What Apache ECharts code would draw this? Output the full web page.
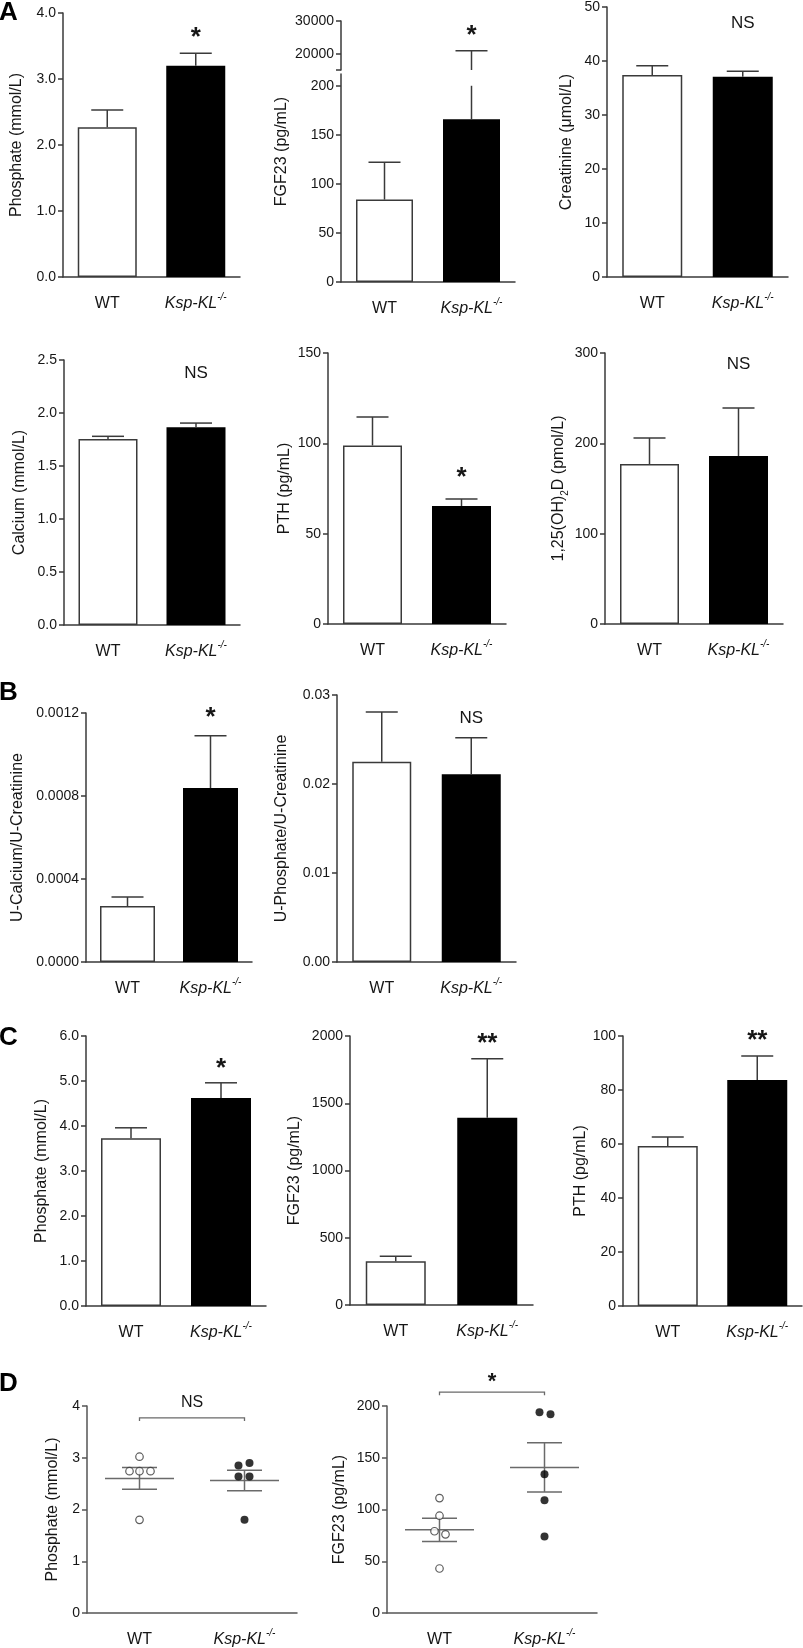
<!DOCTYPE html>
<html><head><meta charset="utf-8">
<script src="https://cdn.jsdelivr.net/npm/echarts@6/dist/echarts.min.js"></script>
<style>html,body{margin:0;padding:0;background:#fff}#c{width:803px;height:1648px}</style>
</head><body><div id="c"></div>
<script>
// ---------------- DATA ----------------
const groups = ['WT', 'Ksp-KL-/-'];
// Panel A (mean, SEM)
const aPhosMean = [2.27, 3.20],   aPhosSem = [0.26, 0.19];
const aFgfMean  = [84, 166],      aFgfSem  = [38, 20730];
const aCreaMean = [37.4, 37.1],   aCreaSem = [1.7, 1.0];
const aCaMean   = [1.755, 1.865], aCaSem   = [0.025, 0.04];
const aPthMean  = [98.8, 65.3],   aPthSem  = [15.8, 3.9];
const aVitDMean = [177, 186],     aVitDSem = [29, 53];
// Panel B
const bCaCrMean = [0.00027, 0.000838], bCaCrSem = [0.000043, 0.000252];
const bPCrMean  = [0.0225, 0.0211],    bPCrSem  = [0.0056, 0.0041];
// Panel C
const cPhosMean = [3.73, 4.62], cPhosSem = [0.23, 0.34];
const cFgfMean  = [326, 1393],  cFgfSem  = [37, 437];
const cPthMean  = [59.3, 83.7], cPthSem  = [3.3, 8.9];
// Panel D individual animals
const dPhosWT = [3.02, 2.74, 2.74, 2.74, 1.80];
const dPhosKL = [2.85, 2.90, 2.64, 2.64, 1.80];
const dPhosMean = [2.60, 2.56], dPhosSem = [0.21, 0.20];
const dFgfWT = [111, 94, 79, 76, 43];
const dFgfKL = [194, 192, 134, 109, 74];
const dFgfMean = [80.4, 140.7], dFgfSem = [11.2, 23.7];
// significance labels
const sigLabels = ['*', '*', 'NS', 'NS', '*', 'NS', '*', 'NS', '*', '**', '**', 'NS', '*'];

// ---------------- STYLE / LAYOUT ----------------
const FONT = '"Liberation Sans", Arial, Helvetica, sans-serif';
const AX = '#3a3a3a';
const TXT = '#161616';
const grids = [], xAxes = [], yAxes = [], series = [];

function catFormatter(v) {
  const m = v.match(/^(.*?)(-\/-)$/);
  return m ? '{i|' + m[1] + '}{s|' + m[2] + '}' : '{n|' + v + '}';
}
const catRich = {
  n: {fontSize: 16, fontFamily: FONT, color: TXT, lineHeight: 20, verticalAlign: 'bottom'},
  i: {fontStyle: 'italic', fontSize: 16, fontFamily: FONT, color: TXT, lineHeight: 20, verticalAlign: 'bottom'},
  s: {fontStyle: 'italic', fontSize: 10, fontFamily: FONT, color: TXT, lineHeight: 10, verticalAlign: 'top'}
};

function errItem(lo, hi, capW, color) {
  return function (params, api) {
    const i = api.value(0), m = api.value(1), s = api.value(2);
    const a = Math.max(m, lo), b = Math.min(m + s, hi);
    if (b <= a) return null;
    const p0 = api.coord([i, a]), p1 = api.coord([i, b]);
    const ch = [{type: 'line', shape: {x1: p0[0], y1: p0[1], x2: p1[0], y2: p1[1]}, style: {stroke: color, lineWidth: 1.5}}];
    if (m + s <= hi) ch.push({type: 'line', shape: {x1: p1[0] - capW / 2, y1: p1[1], x2: p1[0] + capW / 2, y2: p1[1]}, style: {stroke: color, lineWidth: 1.5}});
    return {type: 'group', children: ch};
  };
}

// label placed at fractional category position f (0 = WT, 1 = KL)
function textItem(label, size, weight, f) {
  return function (params, api) {
    const v = api.value(1);
    const c0 = api.coord([0, v]), c1 = api.coord([1, v]);
    const x = c0[0] + (c1[0] - c0[0]) * f;
    const dy = label.indexOf('*') >= 0 ? size * 0.22 : 0;
    return {type: 'text', style: {text: label, x: x, y: c0[1] + dy, fill: TXT,
      font: weight + ' ' + size + 'px ' + FONT, align: 'center', verticalAlign: 'middle'}};
  };
}

function panel(p) {
  const gi = grids.length;
  const ac = p.axisColor || AX;
  grids.push({left: p.left, top: p.top, width: p.width, height: p.height});
  xAxes.push({
    type: 'category', gridIndex: gi, data: groups, show: p.showX !== false,
    axisLine: {lineStyle: {color: ac, width: 1.5}},
    axisTick: {alignWithLabel: true, interval: 0, length: 6, lineStyle: {color: ac, width: 1.5}},
    axisLabel: {interval: 0, hideOverlap: false, margin: p.xMargin || 15, formatter: catFormatter, rich: catRich}
  });
  const ya = {
    type: 'value', gridIndex: gi, min: p.min, max: p.max,
    axisLine: {show: p.hideY ? false : true, lineStyle: {color: ac, width: 1.5}},
    axisTick: {show: !p.hideY, length: 5, lineStyle: {color: ac, width: 1.5}},
    splitLine: {show: false},
    axisLabel: {show: !p.hideY, fontSize: 14, fontFamily: FONT, color: TXT, margin: 7,
      formatter: v => (p.dec != null ? v.toFixed(p.dec) : String(v))}
  };
  if (p.interval) ya.interval = p.interval;
  if (p.ticks) { ya.axisTick.customValues = p.tickVals || p.ticks; ya.axisLabel.customValues = p.ticks; }
  if (p.name) {
    ya.name = p.name; ya.nameLocation = 'middle'; ya.nameGap = p.nameGap; ya.nameRotate = 90;
    ya.nameTextStyle = {fontSize: 16, fontFamily: FONT, color: TXT, rich: {
      t: {fontSize: 16, fontFamily: FONT, color: TXT},
      b: {fontSize: 10, fontFamily: FONT, color: TXT, verticalAlign: 'bottom', lineHeight: 22}}};
  }
  yAxes.push(ya);
  if (p.mean && p.bars !== false) {
    series.push({
      type: 'bar', xAxisIndex: gi, yAxisIndex: gi, barWidth: p.bw || 59, silent: true,
      data: p.mean.map((v, i) => ({value: v, itemStyle: i === 0
        ? {color: '#fff', borderColor: '#3a3a3a', borderWidth: 1.5}
        : {color: '#000', borderColor: '#000', borderWidth: 1.5}}))
    });
  }
  if (p.mean) {
    const clip = p.clip || [-Infinity, Infinity];
    series.push({
      type: 'custom', xAxisIndex: gi, yAxisIndex: gi, clip: false, z: 3,
      data: p.mean.map((m, i) => [i, m, p.sem[i]]), encode: {x: 0, y: 1},
      renderItem: errItem(clip[0], clip[1], 32, '#3a3a3a')
    });
  }
  if (p.sig) {
    const star = p.sig.indexOf('*') >= 0;
    series.push({
      type: 'custom', xAxisIndex: gi, yAxisIndex: gi, clip: false, z: 5,
      data: [[1, p.sigY]], encode: {x: 0, y: 1},
      renderItem: textItem(p.sig, p.sigSize || (star ? 26 : 17), star ? 'bold' : 'normal', p.sigPos == null ? 1 : p.sigPos)
    });
  }
  return gi;
}

// ---- Panel A row 1
panel({left: 63, top: 13, width: 177, height: 264, min: 0, max: 4, interval: 1, dec: 1,
  name: 'Phosphate (mmol/L)', nameGap: 38, mean: aPhosMean, sem: aPhosSem, sig: sigLabels[0], sigY: 3.71});
// FGF23 broken axis: lower part
panel({left: 341, top: 74, width: 174, height: 208, min: 0, max: 212, ticks: [0, 50, 100, 150, 200],
  mean: aFgfMean, sem: aFgfSem, bw: 57, clip: [0, 200]});
// upper part
panel({left: 341, top: 21, width: 174, height: 49, min: 15000, max: 30000, ticks: [20000, 30000],
  tickVals: [15000, 20000, 30000], showX: false, mean: aFgfMean, sem: aFgfSem, bars: false,
  clip: [15000, 30000], sig: sigLabels[1], sigY: 27200});
// name-only axis spanning both parts
panel({left: 341, top: 21, width: 174, height: 261, min: 0, max: 1, showX: false, hideY: true,
  name: 'FGF23 (pg/mL)', nameGap: 51});
panel({left: 607, top: 7, width: 181, height: 270, min: 0, max: 50, interval: 10, dec: 0,
  name: 'Creatinine (μmol/L)', nameGap: 32, mean: aCreaMean, sem: aCreaSem, bw: 60, sig: sigLabels[2], sigY: 47.0});
// ---- Panel A row 2
panel({left: 64, top: 360, width: 176, height: 265, min: 0, max: 2.5, interval: 0.5, dec: 1,
  name: 'Calcium (mmol/L)', nameGap: 36, mean: aCaMean, sem: aCaSem, sig: sigLabels[3], sigY: 2.37});
panel({left: 328, top: 353, width: 178, height: 271, min: 0, max: 150, interval: 50, dec: 0,
  name: 'PTH (pg/mL)', nameGap: 35, mean: aPthMean, sem: aPthSem, sig: sigLabels[4], sigY: 84.1});
panel({left: 605, top: 353, width: 178, height: 271, min: 0, max: 300, interval: 100, dec: 0,
  name: '{t|1,25(OH)}{b|2}{t|D (pmol/L)}', nameGap: 35, mean: aVitDMean, sem: aVitDSem, sig: sigLabels[5], sigY: 287});
// ---- Panel B
panel({left: 86, top: 713, width: 166, height: 249, min: 0, max: 0.0012, interval: 0.0004, dec: 4,
  name: 'U-Calcium/U-Creatinine', nameGap: 60, mean: bCaCrMean, sem: bCaCrSem, bw: 55, sig: sigLabels[6], sigY: 0.001205});
panel({left: 337, top: 695, width: 179, height: 267, min: 0, max: 0.03, interval: 0.01, dec: 2,
  name: 'U-Phosphate/U-Creatinine', nameGap: 47, mean: bPCrMean, sem: bPCrSem, sig: sigLabels[7], sigY: 0.0274});
// ---- Panel C
panel({left: 86, top: 1036, width: 180, height: 270, min: 0, max: 6, interval: 1, dec: 1,
  name: 'Phosphate (mmol/L)', nameGap: 36, mean: cPhosMean, sem: cPhosSem, bw: 60, sig: sigLabels[8], sigY: 5.40});
panel({left: 350, top: 1036, width: 183, height: 269, min: 0, max: 2000, interval: 500, dec: 0,
  name: 'FGF23 (pg/mL)', nameGap: 47, mean: cFgfMean, sem: cFgfSem, bw: 60, sig: sigLabels[9], sigY: 1985});
panel({left: 623, top: 1036, width: 179, height: 270, min: 0, max: 100, interval: 20, dec: 0,
  name: 'PTH (pg/mL)', nameGap: 32, mean: cPthMean, sem: cPthSem, bw: 60, sig: sigLabels[10], sigY: 100.4});
// ---- Panel D
const DAX = '#555';
const gD1 = panel({left: 87, top: 1406, width: 210, height: 210, min: 0, max: 4, interval: 1, dec: 0, axisColor: DAX,
  name: 'Phosphate (mmol/L)', nameGap: 26, sig: sigLabels[11], sigPos: 0.5, sigY: 4.06, sigSize: 16});
const gD2 = panel({left: 387, top: 1406, width: 210, height: 209, min: 0, max: 200, interval: 50, dec: 0, axisColor: DAX,
  name: 'FGF23 (pg/mL)', nameGap: 39, sig: sigLabels[12], sigPos: 0.5, sigY: 227.7, sigSize: 22});

// jitter (px) of individual dots
const jitPhosWT = [0, -10, 0, 11, 0], jitPhosKL = [-6, 5, -6, 5, 0];
const jitFgfWT = [0, 0, -5, 6, 0],    jitFgfKL = [-5, 6, 0, 0, 0];

function dots(gi, cat, vals, jit, filled) {
  series.push({type: 'scatter', xAxisIndex: gi, yAxisIndex: gi, symbol: 'circle', symbolSize: filled ? 8 : 7.5, z: 4, silent: true,
    data: vals.map((v, k) => ({value: [cat, v], symbolOffset: [jit[k], 0]})),
    itemStyle: filled ? {color: '#000'} : {color: '#fff', borderColor: '#333', borderWidth: 1.2}});
}
function meanSem(gi, mean, sem) {
  series.push({type: 'custom', xAxisIndex: gi, yAxisIndex: gi, clip: false, z: 3,
    data: mean.map((m, i) => [i, m, sem[i]]), encode: {x: 0, y: 1},
    renderItem: function (params, api) {
      const i = api.value(0), m = api.value(1), s = api.value(2);
      const c = api.coord([i, m]), u = api.coord([i, m + s]), l = api.coord([i, m - s]);
      const st = {stroke: '#6a6a6a', lineWidth: 1.5};
      return {type: 'group', children: [
        {type: 'line', shape: {x1: c[0] - 34.5, y1: c[1], x2: c[0] + 34.5, y2: c[1]}, style: st},
        {type: 'line', shape: {x1: u[0], y1: u[1], x2: l[0], y2: l[1]}, style: st},
        {type: 'line', shape: {x1: u[0] - 17.5, y1: u[1], x2: u[0] + 17.5, y2: u[1]}, style: st},
        {type: 'line', shape: {x1: l[0] - 17.5, y1: l[1], x2: l[0] + 17.5, y2: l[1]}, style: st}
      ]};
    }});
}
function bracket(gi, v) {
  series.push({type: 'custom', xAxisIndex: gi, yAxisIndex: gi, clip: false, z: 3,
    data: [[0, v]], encode: {x: 0, y: 1},
    renderItem: function (params, api) {
      const a = api.coord([0, api.value(1)]), b = api.coord([1, api.value(1)]);
      return {type: 'polyline', shape: {points: [[a[0], a[1] + 3], [a[0], a[1]], [b[0], b[1]], [b[0], b[1] + 3]]},
        style: {stroke: '#6a6a6a', lineWidth: 1.3, fill: null}};
    }});
}
dots(gD1, 0, dPhosWT, jitPhosWT, false);
dots(gD1, 1, dPhosKL, jitPhosKL, true);
meanSem(gD1, dPhosMean, dPhosSem);
bracket(gD1, 3.77);
dots(gD2, 0, dFgfWT, jitFgfWT, false);
dots(gD2, 1, dFgfKL, jitFgfKL, true);
meanSem(gD2, dFgfMean, dFgfSem);
bracket(gD2, 213.4);

const letter = (t, y) => ({type: 'text', style: {text: t, x: -1, y: y, fill: '#000',
  font: 'bold 26px ' + FONT, verticalAlign: 'middle', align: 'left'}});

const chart = echarts.init(document.getElementById('c'), null, {renderer: 'canvas'});
chart.setOption({
  animation: false,
  backgroundColor: '#fff',
  textStyle: {fontFamily: FONT},
  grid: grids, xAxis: xAxes, yAxis: yAxes, series: series,
  graphic: [letter('A', 13), letter('B', 693), letter('C', 1038), letter('D', 1384)]
});
</script></body></html>
